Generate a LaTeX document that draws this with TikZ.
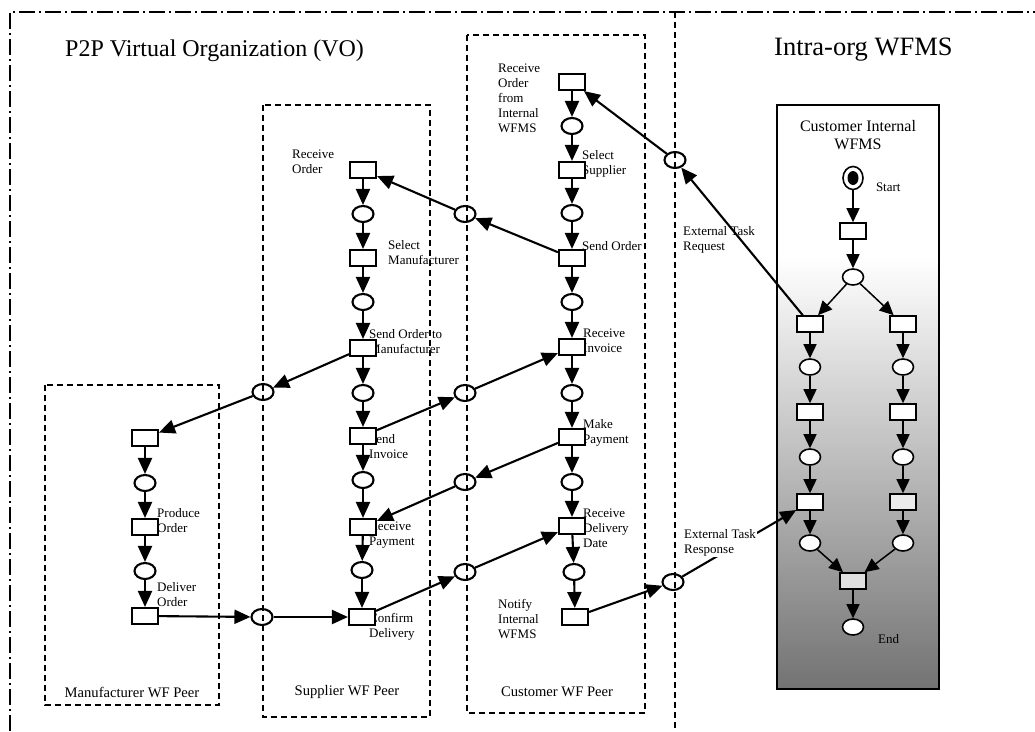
\documentclass[tikz,border=0pt]{standalone}
\usepackage{fontspec}
\setmainfont{Liberation Serif}
\usetikzlibrary{shapes.geometric,arrows.meta}
% grey fade of the intra-org engine panel: white at the top, mid grey at the bottom
\pgfdeclareverticalshading{wfmsshade}{100bp}{color(0bp)=(black!55); color(25bp)=(black!55); color(62bp)=(white); color(100bp)=(white)}
\begin{document}
\begin{tikzpicture}[x=1pt,y=-1pt,
  trans/.style={draw, rectangle, line width=2.1pt, fill=white, minimum width=26pt, minimum height=16pt, inner sep=0pt},
  place/.style={draw, ellipse, line width=2.1pt, fill=white, minimum width=21pt, minimum height=16pt, inner sep=0pt},
  msg/.style={place, fill=none},
  flow/.style={line width=2.1pt, -{Triangle[length=16pt,width=14pt]}},
  wtrans/.style={trans, line width=1.6pt},
  wplace/.style={place, line width=1.6pt},
  wflow/.style={line width=1.5pt, -{Triangle[length=14pt,width=13pt]}},
  lbl/.style={anchor=north west, inner sep=0pt, align=left, font=\fontsize{13}{15}\selectfont},
  peer/.style={line width=1.7pt, dash pattern=on 6pt off 4pt},
  peerlbl/.style={font=\fontsize{14.6}{17}\selectfont},
  frame/.style={line width=1.5pt, dash pattern=on 16pt off 4pt on 2pt off 4pt},
]
\useasboundingbox (0,0) rectangle (1035,731);
\fill[white] (0,0) rectangle (1035,731);

% outer frame and the VO / intra-org divider
\draw[frame] (10,731) -- (10,12) -- (1035,12);
\draw[peer] (675,12) -- (675,731);

% intra-org engine panel
\path[draw, line width=1.7pt, shade, shading=wfmsshade] (777,105) rectangle (939,689);

% peer boundaries
\draw[peer] (45,385) rectangle (219,705);
\draw[peer] (263,105) rectangle (430,717);
\draw[peer] (467,35) rectangle (645,713);

% headings
\node[anchor=west, inner sep=0pt, font=\fontsize{24}{26}\selectfont] (vo) at (65,51) {P2P Virtual Organization (VO)};
\node[anchor=west, inner sep=0pt, font=\fontsize{26.5}{28}\selectfont] (intra) at (774,50) {Intra-org WFMS};
\node[peerlbl] (mpeer) at (132,692) {Manufacturer WF Peer};
\node[peerlbl] (speer) at (347,692) {Supplier WF Peer};
\node[peerlbl] (cpeer) at (557,692) {Customer WF Peer};
\node[align=center, font=\fontsize{16}{18}\selectfont] (wtitle) at (858,135) {Customer Internal\\WFMS};

% task labels
\node[lbl] (lc1) at (498,64) {Receive\\Order\\from\\Internal\\WFMS};
\node[lbl] (lc2) at (582,150) {Select\\Supplier};
\node[lbl] (lc3) at (582,241) {Send Order};
\node[lbl] (lc4) at (583,329) {Receive\\Invoice};
\node[lbl] (lc5) at (583,419) {Make\\Payment};
\node[lbl] (lc6) at (583,509) {Receive\\Delivery\\Date};
\node[lbl] (lc7) at (498,599) {Notify\\Internal\\WFMS};
\node[lbl] (ls1) at (292,150) {Receive\\Order};
\node[lbl] (ls2) at (388,240) {Select\\Manufacturer};
\node[lbl] (ls3) at (369,329) {Send Order to\\Manufacturer};
\node[lbl] (ls4) at (369,434) {Send\\Invoice};
\node[lbl] (ls5) at (369,522) {Receive\\Payment};
\node[lbl] (ls6) at (369,613) {Confirm\\Delivery};
\node[lbl] (lm2) at (157,508) {Produce\\Order};
\node[lbl] (lm3) at (157,582) {Deliver\\Order};
\node[lbl] (lreq) at (683,226) {External Task\\Request};
\node[lbl] (lend) at (878,634) {End};

% customer peer
\node[trans] (c1) at (572,82) {};
\node[place] (cp1) at (572,126) {};
\node[trans] (c2) at (572,170) {};
\node[place] (cp2) at (572,213) {};
\node[trans] (c3) at (572,258) {};
\node[place] (cp3) at (572,302) {};
\node[trans] (c4) at (572,347) {};
\node[place] (cp4) at (572,393) {};
\node[trans] (c5) at (572,437) {};
\node[place] (cp5) at (572,482) {};
\node[trans] (c6) at (572,526) {};
\node[place] (cp6) at (574,572) {};
\node[trans] (c7) at (575,617) {};

% supplier peer
\node[trans] (s1) at (363,170) {};
\node[place] (sp1) at (363,214) {};
\node[trans] (s2) at (363,258) {};
\node[place] (sp2) at (363,302) {};
\node[trans] (s3) at (363,348) {};
\node[place] (sp3) at (363,393) {};
\node[trans] (s4) at (363,436) {};
\node[place] (sp4) at (363,480) {};
\node[trans] (s5) at (363,527) {};
\node[place] (sp5) at (362,570) {};
\node[trans] (s6) at (362,617) {};

% manufacturer peer
\node[trans] (m1) at (145,438) {};
\node[place] (mp1) at (145,483) {};
\node[trans] (m2) at (145,527) {};
\node[place] (mp2) at (145,571) {};
\node[trans] (m3) at (145,616) {};

% message places between peers
\node[msg] (x1) at (465,214) {};
\node[msg] (x2) at (263,392) {};
\node[msg] (x3) at (465,393) {};
\node[msg] (x4) at (465,482) {};
\node[msg] (x5) at (465,572) {};
\node[msg] (x6) at (262,617) {};
\node[msg] (x7) at (675,160) {};
\node[msg] (x8) at (673,582) {};

% customer internal workflow
\node[wplace, minimum width=20pt, minimum height=23pt] (wstart) at (853,178) {};
\fill (wstart.center) ellipse (5.5pt and 7pt);
\node[fill=white, inner xsep=2pt, text width=44pt, minimum height=24pt, align=left, font=\fontsize{13}{15}\selectfont] (lstart) at (898,187) {Start};
\node[wtrans] (w1) at (853,231) {};
\node[wplace] (wp1) at (853,277) {};
\node[wtrans] (wl1) at (810,324) {};
\node[wtrans] (wr1) at (903,324) {};
\node[wplace] (wlp1) at (810,367) {};
\node[wplace] (wrp1) at (903,367) {};
\node[wtrans] (wl2) at (810,412) {};
\node[wtrans] (wr2) at (903,412) {};
\node[wplace] (wlp2) at (810,457) {};
\node[wplace] (wrp2) at (903,457) {};
\node[wtrans] (wl3) at (810,502) {};
\node[wtrans, fill=black!8] (wr3) at (903,502) {};
\node[wplace] (wlp3) at (810,543) {};
\node[wplace] (wrp3) at (903,543) {};
\node[wtrans, fill=black!12] (wm) at (853,581) {};
\node[wplace] (wend) at (853,627) {};

% flows inside the peers
\draw[flow] (c1) -- (cp1);
\draw[flow] (cp1) -- (c2);
\draw[flow] (c2) -- (cp2);
\draw[flow] (cp2) -- (c3);
\draw[flow] (c3) -- (cp3);
\draw[flow] (cp3) -- (c4);
\draw[flow] (c4) -- (cp4);
\draw[flow] (cp4) -- (c5);
\draw[flow] (c5) -- (cp5);
\draw[flow] (cp5) -- (c6);
\draw[flow] (c6) -- (cp6);
\draw[flow] (cp6) -- (c7);
\draw[flow] (s1) -- (sp1);
\draw[flow] (sp1) -- (s2);
\draw[flow] (s2) -- (sp2);
\draw[flow] (sp2) -- (s3);
\draw[flow] (s3) -- (sp3);
\draw[flow] (sp3) -- (s4);
\draw[flow] (s4) -- (sp4);
\draw[flow] (sp4) -- (s5);
\draw[flow] (s5) -- (sp5);
\draw[flow] (sp5) -- (s6);
\draw[flow] (m1) -- (mp1);
\draw[flow] (mp1) -- (m2);
\draw[flow] (m2) -- (mp2);
\draw[flow] (mp2) -- (m3);

% messages between peers
\draw[flow] (c3) -- (x1);
\draw[flow] (x1) -- (s1);
\draw[flow] (s3) -- (x2);
\draw[flow] (x2) -- (m1);
\draw[flow] (s4) -- (x3);
\draw[flow] (x3) -- (c4);
\draw[flow] (c5) -- (x4);
\draw[flow] (x4) -- (s5);
\draw[flow] (s6) -- (x5);
\draw[flow] (x5) -- (c6);
\draw[flow] (m3) -- (x6);
\draw[flow] (x6) -- (s6);
\draw[flow] (wl1) -- (x7);
\draw[flow] (x7) -- (c1);
\draw[flow] (c7) -- (x8);
\draw[flow] (x8) -- (wl3);

% internal workflow flows
\draw[wflow] (wstart) -- (w1);
\draw[wflow] (w1) -- (wp1);
\draw[wflow] (wp1) -- (wl1);
\draw[wflow] (wp1) -- (wr1);
\draw[wflow] (wl1) -- (wlp1);
\draw[wflow] (wr1) -- (wrp1);
\draw[wflow] (wlp1) -- (wl2);
\draw[wflow] (wrp1) -- (wr2);
\draw[wflow] (wl2) -- (wlp2);
\draw[wflow] (wr2) -- (wrp2);
\draw[wflow] (wlp2) -- (wl3);
\draw[wflow] (wrp2) -- (wr3);
\draw[wflow] (wl3) -- (wlp3);
\draw[wflow] (wr3) -- (wrp3);
\draw[wflow] (wlp3) -- (wm);
\draw[wflow] (wrp3) -- (wm);
\draw[wflow] (wm) -- (wend);

% response label sits over its connector
\node[lbl, fill=white, inner sep=1pt] (lresp) at (683,528) {External Task\\Response};
\end{tikzpicture}
\end{document}
